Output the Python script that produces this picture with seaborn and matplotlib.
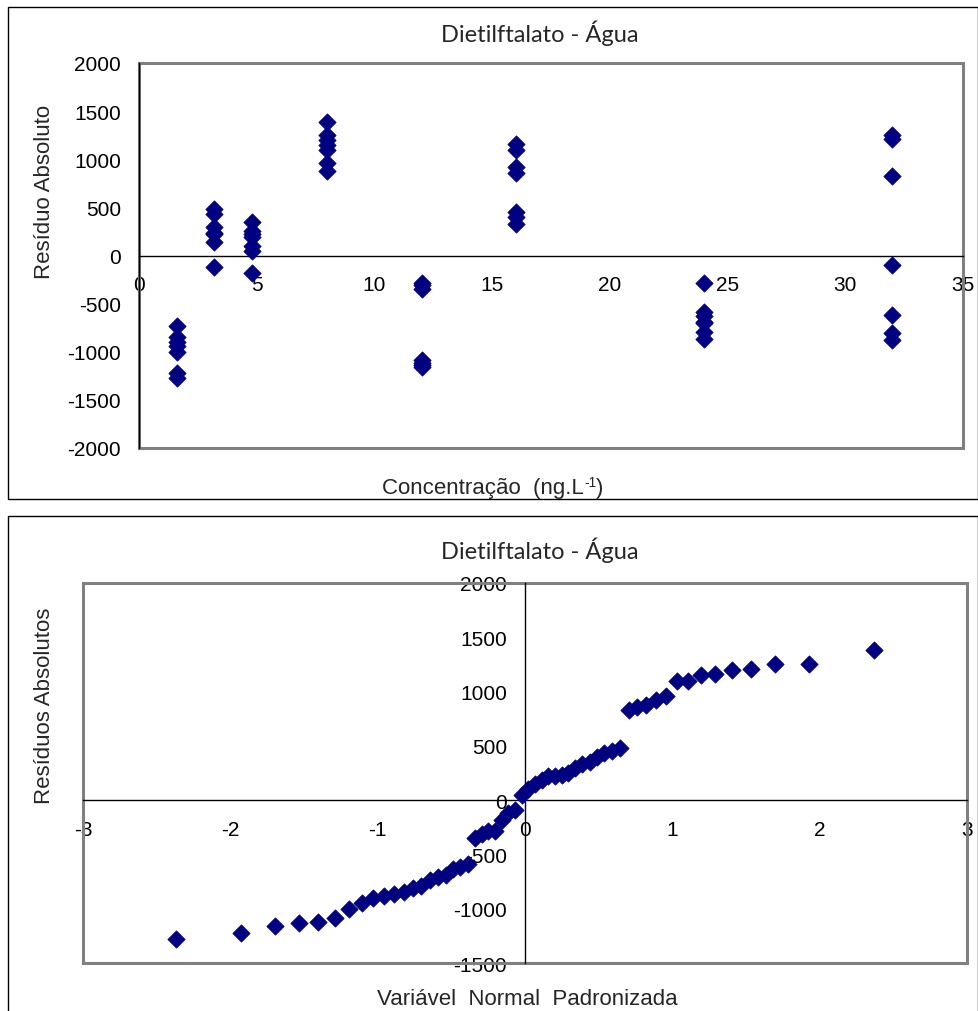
import numpy as np
import pandas as pd
import matplotlib
matplotlib.use("Agg")
import matplotlib.pyplot as plt
from matplotlib.patches import Rectangle
import seaborn as sns

# ---- data ----
conc_levels = [1.6, 3.2, 4.8, 8, 12, 16, 24, 32]
res_1_6 = [-735, -850, -900, -945, -1005, -1225, -1275]
res_3_2 = [480, 435, 295, 235, 220, 145, -115]
res_4_8 = [350, 250, 225, 190, 100, 50, -185]
res_8 = [1385, 1255, 1200, 1150, 1095, 960, 880]
res_12 = [-285, -310, -345, -1085, -1120, -1135, -1160]
res_16 = [1160, 1095, 920, 860, 450, 395, 330]
res_24 = [-285, -590, -630, -690, -705, -790, -865]
res_32 = [1255, 1210, 830, -95, -615, -805, -880]

# standardized normal variable (x positions of the lower chart)
normal_scores = [-2.369, -1.930, -1.699, -1.534, -1.403, -1.291, -1.195, -1.109,
                 -1.029, -0.956, -0.887, -0.822, -0.761, -0.703, -0.646, -0.592,
                 -0.539, -0.489, -0.439, -0.390, -0.342, -0.295, -0.248, -0.203,
                 -0.157, -0.112, -0.067, -0.022, 0.022, 0.067, 0.112, 0.157,
                 0.203, 0.248, 0.295, 0.342, 0.390, 0.439, 0.489, 0.539,
                 0.592, 0.646, 0.703, 0.761, 0.822, 0.887, 0.956, 1.029,
                 1.109, 1.195, 1.291, 1.403, 1.534, 1.699, 1.930, 2.369]

title = "Dietilftalato - Água"
top_xticks = [0, 5, 10, 15, 20, 25, 30, 35]
top_yticks = [-2000, -1500, -1000, -500, 0, 500, 1000, 1500, 2000]
bot_xticks = [-3, -2, -1, 0, 1, 2, 3]
bot_yticks = [-1500, -1000, -500, 0, 500, 1000, 1500, 2000]

groups = [res_1_6, res_3_2, res_4_8, res_8, res_12, res_16, res_24, res_32]
df_top = pd.DataFrame({
    "conc": np.repeat(conc_levels, [len(g) for g in groups]),
    "res": np.concatenate(groups),
})
df_bot = pd.DataFrame({
    "z": normal_scores,
    "res": np.sort(df_top["res"].values),
})

# ---- style ----
sns.set_style("white")
plt.rcParams["font.family"] = ["Liberation Sans", "DejaVu Sans"]

W, H = 979, 1012
fig = plt.figure(figsize=(W / 100, H / 100), dpi=100)
navy = "#000080"
tick_fs = 15
lab_fs = 16
title_fs = 17
msize = 78


def fx(px):
    return px / W


def fy(py):
    return 1 - py / H


# outer chart frames
fig.patches.append(Rectangle((fx(8), fy(500)), fx(978) - fx(8), fy(8) - fy(500),
                             transform=fig.transFigure, fill=False, ec="#000000", lw=1))
fig.patches.append(Rectangle((fx(8), fy(1030)), fx(978) - fx(8), fy(517) - fy(1030),
                             transform=fig.transFigure, fill=False, ec="#000000", lw=1))


def style_axes(ax, xticks, yticks, move_left):
    ax.set_xticks(xticks)
    ax.set_yticks(yticks)
    ax.set_xticklabels([str(t) for t in xticks])
    ax.set_yticklabels([str(t) for t in yticks])
    ax.set_xlabel("")
    ax.set_ylabel("")
    for s in ["top", "right"]:
        ax.spines[s].set_visible(False)
    ax.spines["bottom"].set_position(("data", 0))
    if move_left:
        ax.spines["left"].set_position(("data", 0))
    for s in ["left", "bottom"]:
        ax.spines[s].set_color("black")
        ax.spines[s].set_linewidth(1)
    ax.tick_params(axis="both", direction="out", length=5, width=1, colors="black",
                   labelsize=tick_fs)
    ax.tick_params(axis="x", pad=9)
    ax.tick_params(axis="y", pad=8)
    ax.add_patch(Rectangle((0, 0), 1, 1, transform=ax.transAxes, fill=False,
                           ec="#808080", lw=2.2, clip_on=False, zorder=1))


# ---- top chart ----
ax1 = fig.add_axes([fx(139), fy(449), fx(963) - fx(139), fy(64) - fy(449)])
sns.scatterplot(data=df_top, x="conc", y="res", ax=ax1, marker="D", s=msize,
                color=navy, edgecolor=navy, linewidth=0.5, zorder=3)
ax1.set_xlim(0, 35)
ax1.set_ylim(-2000, 2000)
style_axes(ax1, top_xticks, top_yticks, False)

fig.text(fx(540), fy(33), title, ha="center", va="center", fontsize=title_fs,
         family=["Lato", "DejaVu Sans"])
fig.text(fx(45), fy(192), "Resíduo Absoluto", rotation=90, ha="center",
         va="center", fontsize=lab_fs)

# x label with superscript, built from pieces
base_y = fy(494)
p1 = fig.text(0, base_y, "Concentração  (ng.L", ha="left", va="baseline", fontsize=lab_fs)
p2 = fig.text(0, base_y, "-1", ha="left", va="baseline", fontsize=lab_fs * 0.62)
p3 = fig.text(0, base_y, ")", ha="left", va="baseline", fontsize=lab_fs)
fig.canvas.draw()
r = fig.canvas.get_renderer()
w1 = p1.get_window_extent(r).width
w2 = p2.get_window_extent(r).width
w3 = p3.get_window_extent(r).width
total = w1 + w2 + w3
start = 493 - total / 2
p1.set_x(fx(start))
p2.set_x(fx(start + w1))
p2.set_y(base_y + 7 / H)
p3.set_x(fx(start + w1 + w2))

# ---- bottom chart ----
ax2 = fig.add_axes([fx(83), fy(964), fx(967) - fx(83), fy(584) - fy(964)])
sns.scatterplot(data=df_bot, x="z", y="res", ax=ax2, marker="D", s=msize,
                color=navy, edgecolor=navy, linewidth=0.5, zorder=3)
ax2.set_xlim(-3, 3)
ax2.set_ylim(-1500, 2000)
style_axes(ax2, bot_xticks, bot_yticks, True)

fig.text(fx(540), fy(550), title, ha="center", va="center", fontsize=title_fs,
         family=["Lato", "DejaVu Sans"])
fig.text(fx(45), fy(706), "Resíduos Absolutos", rotation=90, ha="center",
         va="center", fontsize=lab_fs)
fig.text(fx(527), fy(1000), "Variável  Normal  Padronizada", ha="center",
         va="center", fontsize=lab_fs)

fig.savefig("out.png", dpi=100)
